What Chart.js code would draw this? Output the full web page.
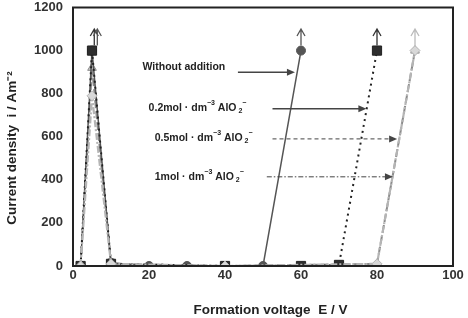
<!DOCTYPE html>
<html><head><meta charset="utf-8">
<script src="https://cdn.jsdelivr.net/npm/chart.js@4/dist/chart.umd.min.js"></script>
<style>html,body{margin:0;padding:0;background:#fff}#wrap{width:468px;height:318px}</style>
</head><body><div id="wrap"><canvas id="c" width="468" height="318"></canvas></div>
<script>
// Formation voltage (V) and current density (A m^-2)
const xWithout = [2, 5, 10, 20, 30, 40, 50, 60];
const yWithout = [0, 1000, 15, 0, 0, 0, 0, 1000];
const x02 = [2, 5, 10, 40, 60, 70, 80];
const y02 = [0, 1000, 10, 0, 0, 5, 1000];
const x05 = [2, 5, 10, 40, 80, 90];
const y05 = [0, 920, 10, 0, 10, 1000];
const x1 = [2, 5, 10, 40, 80, 90];
const y1 = [0, 790, 10, 0, 10, 1000];
const xTicks = [0, 20, 40, 60, 80, 100];
const yTicks = [0, 200, 400, 600, 800, 1000, 1200];
const seriesNames = ["Without addition", "0.2mol", "0.5mol", "1mol"];
// up-arrows above the last points
const arrowX = [5.6, 6.4, 60, 80, 90];
const arrowColors = ["#333", "#555", "#555", "#333", "#bbb"];
// label callouts
const labelX = [18.3, 19.9, 21.5, 21.5];
const labelY = [921, 735, 595, 414];
const calloutFrom = [43.4, 52.5, 52.5, 51];
const calloutTo = [58.4, 77.2, 85.3, 84.2];
const calloutY = [899, 730, 590, 414];

const pts = (xs, ys) => xs.map((x, i) => ({x: x, y: ys[i]}));
const FONT = '"Liberation Sans", Arial, sans-serif';

const overlay = {
  id: 'overlay',
  afterDatasetsDraw(chart) {
    const ctx = chart.ctx, xs = chart.scales.x, ys = chart.scales.y, a = chart.chartArea;
    ctx.save();
    ctx.strokeStyle = '#222'; ctx.lineWidth = 2;
    ctx.strokeRect(a.left, a.top, a.right - a.left, a.bottom - a.top);
    arrowX.forEach((v, i) => {
      const px = xs.getPixelForValue(v), y0 = ys.getPixelForValue(1000) - 5, y1p = ys.getPixelForValue(1100);
      ctx.strokeStyle = arrowColors[i]; ctx.lineWidth = 1.3; ctx.setLineDash([]);
      ctx.beginPath(); ctx.moveTo(px, y0); ctx.lineTo(px, y1p);
      ctx.moveTo(px - 4, y1p + 7); ctx.lineTo(px, y1p); ctx.lineTo(px + 4, y1p + 7); ctx.stroke();
    });
    const dashes = [[], [], [4, 3], [5, 2, 1.5, 2]];
    calloutFrom.forEach((f, i) => {
      const x0 = xs.getPixelForValue(f), x1p = xs.getPixelForValue(calloutTo[i]), py = ys.getPixelForValue(calloutY[i]);
      ctx.strokeStyle = '#444'; ctx.fillStyle = '#444'; ctx.lineWidth = i < 2 ? 1.5 : 1;
      ctx.setLineDash(dashes[i]);
      ctx.beginPath(); ctx.moveTo(x0, py); ctx.lineTo(x1p - 7, py); ctx.stroke();
      ctx.setLineDash([]);
      ctx.beginPath(); ctx.moveTo(x1p, py); ctx.lineTo(x1p - 8, py - 3.5); ctx.lineTo(x1p - 8, py + 3.5); ctx.closePath(); ctx.fill();
    });
    ctx.fillStyle = '#222'; ctx.textBaseline = 'middle'; ctx.textAlign = 'left';
    labelX.forEach((lx, i) => {
      let px = xs.getPixelForValue(lx); const py = ys.getPixelForValue(labelY[i]);
      const parts = i === 0 ? [["Without addition", 0, 10.5]] :
        [[seriesNames[i] + " · dm", 0, 10.5], ["−3", -5, 7], [" AlO", 0, 10.5], [" 2", 3, 7], ["−", -5, 7]];
      parts.forEach(p => {
        ctx.font = 'bold ' + p[2] + 'px ' + FONT;
        ctx.fillText(p[0], px, py + p[1]);
        px += ctx.measureText(p[0]).width;
      });
    });
    ctx.restore();
  }
};

const ds = (label, data, color, fill, shape, dash, width, r, order) => ({
  label, data, showLine: true, borderColor: color, backgroundColor: fill,
  pointBorderColor: color, pointBackgroundColor: fill, pointStyle: shape,
  pointRadius: r, pointBorderWidth: 1, borderWidth: width, borderDash: dash, tension: 0, order
});

new Chart(document.getElementById('c'), {
  type: 'scatter',
  data: { datasets: [
    ds(seriesNames[0], pts(xWithout, yWithout), '#555', '#555', 'circle', [], 1.5, 4.5, 2),
    ds(seriesNames[1], pts(x02, y02), '#222', '#2e2e2e', 'rect', [2, 4], 2, 6.5, 1),
    ds(seriesNames[2], pts(x05, y05), '#8a8a8a', '#c8c8c8', 'triangle', [8, 3], 2, 5, 3),
    ds(seriesNames[3], pts(x1, y1), '#b5b5b5', '#d8d8d8', 'rectRot', [7, 2, 2, 2], 2.2, 5, 0)
  ]},
  plugins: [overlay],
  options: {
    responsive: false, animation: false, events: [],
    layout: { padding: { left: 0, right: 15, top: 7, bottom: 0 } },
    plugins: { legend: { display: false }, tooltip: { enabled: false } },
    scales: {
      x: { type: 'linear', min: 0, max: 100,
        afterBuildTicks: s => { s.ticks = xTicks.map(v => ({value: v})); },
        afterFit: s => { s.height = 52; s.paddingLeft = 0; s.paddingRight = 0; },
        grid: { display: false, drawTicks: false }, border: { display: false },
        ticks: { padding: 2, color: '#333', callback: v => String(v), font: { size: 13, weight: 'bold', family: FONT } },
        title: { display: true, text: '    Formation voltage  E / V', color: '#222', padding: { top: 0, bottom: 0 },
          font: { size: 13.5, weight: 'bold', family: FONT } } },
      y: { type: 'linear', min: 0, max: 1200,
        afterBuildTicks: s => { s.ticks = yTicks.map(v => ({value: v})); },
        afterFit: s => { s.width = 73; s.paddingTop = 0; s.paddingBottom = 0; },
        grid: { display: false, drawTicks: false }, border: { display: false },
        ticks: { padding: 10, color: '#333', callback: v => String(v), font: { size: 13, weight: 'bold', family: FONT } },
        title: { display: true, text: 'Current density  i / Am⁻²      ', color: '#222', padding: { top: 4, bottom: 0 },
          font: { size: 13.5, weight: 'bold', family: FONT } } }
    }
  }
});
</script></body></html>
